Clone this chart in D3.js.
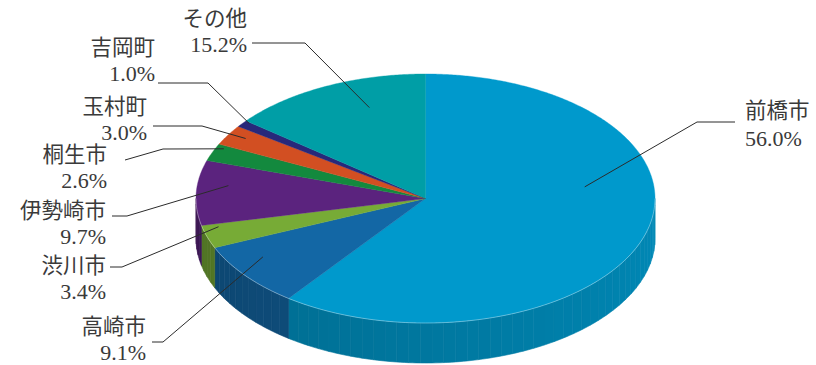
<!DOCTYPE html>
<html><head><meta charset="utf-8">
<script src="https://cdn.jsdelivr.net/npm/d3@7"></script>
<style>body{margin:0;background:#fff}</style>
</head><body>
<svg id="chart" width="816" height="365"></svg>
<script>
// ---- data ----
const categories = ['前橋市','高崎市','渋川市','伊勢崎市','桐生市','玉村町','吉岡町','その他'];
const shares = [56.0, 9.1, 3.4, 9.7, 2.6, 3.0, 1.0, 15.2];
const percentLabels = shares.map(v => v.toFixed(1) + '%');
const sliceColors = ['#0099cc','#1367a5','#77ab36','#5b237e','#13893e','#d24f22','#28287a','#009ea6'];

// ---- label layout (positions of annotation text / leader elbows) ----
const labelLayout = [
  {anchor:'start', x:745, nameY:118, pctY:146, leader:[[735,122],[697,122]], f:0.38, r:0.70},
  {anchor:'end',   x:146, nameY:334, pctY:360, leader:[[152,342],[163,342]], f:0.66, r:0.85},
  {anchor:'end',   x:106, nameY:273, pctY:299, leader:[[110,267],[122,267]], f:0.85, r:0.93},
  {anchor:'end',   x:106, nameY:218, pctY:244, leader:[[112,216],[127,216]], f:0.64, r:0.865},
  {anchor:'end',   x:107, nameY:162, pctY:188, leader:[[125,160],[163,149]], f:0.82, r:0.965},
  {anchor:'end',   x:147, nameY:114, pctY:140, leader:[[153,126],[202,126]], f:0.6,  r:0.92},
  {anchor:'end',   x:155, nameY:55,  pctY:81,  leader:[[158,83],[208,83]],   f:0.85, r:0.975},
  {anchor:'end',   x:247, nameY:26,  pctY:52,  leader:[[252,43],[305,43]],   f:0.64, r:0.77}
];

// ---- geometry ----
const cx = 425.5, cy = 198.5, rx = 229.5, ry = 124.5, depth = 40;
const skew = 7.8 * Math.PI / 180; // perspective skew of the 3D view
const warp = t => t + skew * (1 - Math.cos(t));
const proj = (th, r = 1, dy = 0) => [cx + rx * r * Math.sin(th), cy - ry * r * Math.cos(th) + dy];

const svg = d3.select('#chart');
const pie = d3.pie().sort(null).value(d => d)(shares);
const arcs = pie.map((p, i) => ({i, a0: warp(p.startAngle), a1: warp(p.endAngle)}));

const line = d3.line();
const angleSteps = (a0, a1, step) => {
  const n = Math.max(1, Math.ceil((a1 - a0) / step));
  return d3.range(n + 1).map(k => a0 + (a1 - a0) * k / n);
};

// ---- side walls (front half) ----
const gSide = svg.append('g');
const front0 = Math.PI / 2, front1 = 3 * Math.PI / 2;
const shade = th => 0.9 - 0.24 * (th - front0) / Math.PI;
arcs.forEach(a => {
  const s0 = Math.max(a.a0, front0), s1 = Math.min(a.a1, front1);
  if (s1 <= s0) return;
  const ts = angleSteps(s0, s1, 3 * Math.PI / 180);
  const base = d3.rgb(sliceColors[a.i]);
  for (let k = 0; k < ts.length - 1; k++) {
    const t0 = ts[k], t1 = ts[k + 1];
    const m = shade((t0 + t1) / 2);
    const c = d3.rgb(base.r * m, base.g * m, base.b * m).formatHex();
    const pts = angleSteps(t0, t1, 1 * Math.PI / 180);
    const top = pts.map(t => proj(t));
    const bot = pts.slice().reverse().map(t => proj(t, 1, depth));
    gSide.append('path').attr('d', line(top.concat(bot)) + 'Z')
      .attr('fill', c).attr('stroke', c).attr('stroke-width', 0.6);
  }
});

// ---- top faces ----
const gTop = svg.append('g');
arcs.forEach(a => {
  const pts = [[cx, cy]].concat(angleSteps(a.a0, a.a1, 0.5 * Math.PI / 180).map(t => proj(t)));
  gTop.append('path').attr('d', line(pts) + 'Z')
    .attr('fill', sliceColors[a.i]).attr('stroke', sliceColors[a.i]).attr('stroke-width', 0.4);
});

// rim highlight
svg.append('path')
  .attr('d', line(angleSteps(front0, front1, Math.PI / 180).map(t => proj(t))))
  .attr('fill', 'none').attr('stroke', 'rgba(255,255,255,0.35)').attr('stroke-width', 1);

// ---- leader lines & labels (two-line labels) ----
const gLab = svg.append('g');
labelLayout.forEach((L, i) => {
  const a = arcs[i];
  const th = a.a0 + (a.a1 - a.a0) * L.f;
  const end = proj(th, L.r);
  gLab.append('path').attr('d', line(L.leader.concat([end])))
    .attr('fill', 'none').attr('stroke', '#2b2b2b').attr('stroke-width', 1);
  const t = gLab.append('text').attr('text-anchor', L.anchor).attr('fill', '#3a3a3a');
  t.append('tspan').attr('x', L.x).attr('y', L.nameY)
    .attr('font-family', '"Noto Sans CJK JP", sans-serif').attr('font-size', 21.5)
    .text(categories[i]);
  t.append('tspan').attr('x', L.x).attr('y', L.pctY)
    .attr('font-family', '"Liberation Serif", serif').attr('font-size', 22)
    .text(percentLabels[i]);
});
</script>
</body></html>
